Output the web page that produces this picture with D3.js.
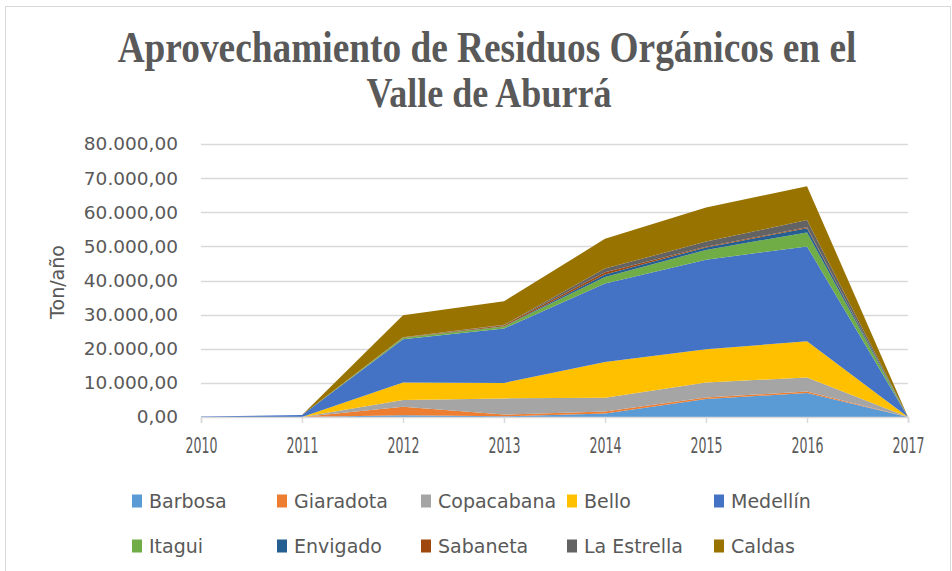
<!DOCTYPE html>
<html>
<head>
<meta charset="utf-8">
<script src="https://cdn.jsdelivr.net/npm/d3@7"></script>
<style>
  html, body { margin: 0; padding: 0; background: #ffffff; }
  svg { display: block; }
</style>
</head>
<body>
<svg id="chart" width="952" height="571"></svg>
<script>
// Years on the horizontal axis
const years = [2010, 2011, 2012, 2013, 2014, 2015, 2016, 2017];

// Municipalities, in stacking order (bottom to top)
const municipios = ["Barbosa", "Giaradota", "Copacabana", "Bello", "Medellín",
                    "Itagui", "Envigado", "Sabaneta", "La Estrella", "Caldas"];

// Tonnes per year for each municipality
const barbosa    = [0,   0,   500,   200,   1000,  5300,  7000,  0];
const giaradota  = [0,   0,   2500,  500,   600,   400,   500,   0];
const copacabana = [0,   0,   2000,  4750,  4050,  4400,  4100,  0];
const bello      = [0,   0,   5100,  4550,  10500, 9750,  10600, 0];
const medellin   = [150, 600, 12700, 15930, 22950, 26250, 27800, 0];
const itagui     = [0,   0,   400,   570,   1940,  2850,  4100,  0];
const envigado   = [0,   0,   50,    100,   700,   750,   1200,  0];
const sabaneta   = [0,   0,   50,    300,   700,   200,   300,   0];
const laEstrella = [0,   0,   50,    100,   1050,  1500,  2100,  0];
const caldas     = [0,   0,   6480,  6900,  8710,  10000, 9900,  0];

const seriesValues = [barbosa, giaradota, copacabana, bello, medellin,
                      itagui, envigado, sabaneta, laEstrella, caldas];

const colors = ["#5B9BD5", "#ED7D31", "#A5A5A5", "#FFC000", "#4472C4",
                "#70AD47", "#255E91", "#9E480E", "#636363", "#997300"];

// Y axis tick values and their labels
const yTicks = [0, 10000, 20000, 30000, 40000, 50000, 60000, 70000, 80000];
const yTickLabels = ["0,00", "10.000,00", "20.000,00", "30.000,00", "40.000,00",
                     "50.000,00", "60.000,00", "70.000,00", "80.000,00"];

const titleLines = ["Aprovechamiento de Residuos Orgánicos en el", "Valle de Aburrá"];
const yAxisTitle = "Ton/año";

// Build row table for d3.stack
const rows = years.map((y, i) => {
  const r = { year: y };
  municipios.forEach((m, k) => { r[m] = seriesValues[k][i]; });
  return r;
});

const svg = d3.select("#chart");
const textColor = "#595959";
const gridColor = "#d9d9d9";

// Squeeze a centred text horizontally so it spans the given width
function fitWidth(sel, cx, cy, width) {
  sel.attr("x", 0).attr("y", 0).attr("text-anchor", "middle");
  const w = sel.node().getComputedTextLength();
  const k = width / w;
  sel.attr("transform", `translate(${cx},${cy}) scale(${k},1)`);
}

// Outer chart border
svg.append("rect")
  .attr("x", 5.5).attr("y", 6.5)
  .attr("width", 945).attr("height", 570)
  .attr("fill", "#fff")
  .attr("stroke", gridColor).attr("stroke-width", 1);

const x = d3.scaleLinear().domain([2010, 2017]).range([201, 908]);
const yScale = d3.scaleLinear().domain([0, 80000]).range([417, 144]);

// Horizontal gridlines
svg.append("g")
  .selectAll("line")
  .data(yTicks.slice(1))
  .join("line")
  .attr("x1", x(2010)).attr("x2", x(2017))
  .attr("y1", d => Math.round(yScale(d)) + 0.5)
  .attr("y2", d => Math.round(yScale(d)) + 0.5)
  .attr("stroke", gridColor).attr("stroke-width", 1.5);

// Stacked areas
const stack = d3.stack().keys(municipios);
const layers = stack(rows);

const area = d3.area()
  .x(d => x(d.data.year))
  .y0(d => yScale(d[0]))
  .y1(d => yScale(d[1]));

svg.append("g")
  .selectAll("path")
  .data(layers)
  .join("path")
  .attr("d", area)
  .attr("fill", (d, i) => colors[i]);

// X axis
const xAxis = d3.axisBottom(x)
  .tickValues(years)
  .tickFormat(d3.format("d"))
  .tickSize(6)
  .tickPadding(14);

const gx = svg.append("g")
  .attr("transform", "translate(0,417)")
  .call(xAxis);
gx.select(".domain").attr("stroke", gridColor).attr("stroke-width", 1.5);
gx.selectAll(".tick line").attr("stroke", gridColor).attr("stroke-width", 1.5);
gx.selectAll(".tick text")
  .attr("fill", textColor)
  .attr("font-family", "'DejaVu Sans Condensed', 'DejaVu Sans', sans-serif")
  .attr("font-size", 21)
  .attr("dy", null)
  .each(function () { fitWidth(d3.select(this), 0, 36, 32); });

// Y axis (labels only)
const yAxis = d3.axisLeft(yScale)
  .tickValues(yTicks)
  .tickFormat((d, i) => yTickLabels[i])
  .tickSize(0)
  .tickPadding(23);

const gy = svg.append("g")
  .attr("transform", `translate(${x(2010)},0)`)
  .call(yAxis);
gy.select(".domain").remove();
gy.selectAll(".tick text")
  .attr("fill", textColor)
  .attr("font-family", "'DejaVu Sans', sans-serif")
  .attr("font-size", 18.5);

// Y axis title
svg.append("text")
  .attr("transform", "translate(64,282) rotate(-90)")
  .attr("text-anchor", "middle")
  .attr("fill", textColor)
  .attr("font-family", "'DejaVu Sans', sans-serif")
  .attr("font-size", 19)
  .text(yAxisTitle);

// Title, two lines
const title1 = svg.append("text")
  .attr("fill", textColor)
  .attr("font-family", "'Liberation Serif', 'Times New Roman', serif")
  .attr("font-weight", "bold")
  .attr("font-size", 44)
  .text(titleLines[0]);
fitWidth(title1, 487, 62, 739);

const title2 = svg.append("text")
  .attr("fill", textColor)
  .attr("font-family", "'Liberation Serif', 'Times New Roman', serif")
  .attr("font-weight", "bold")
  .attr("font-size", 42)
  .text(titleLines[1]);
fitWidth(title2, 489, 107, 245);

// Legend: two rows of five
const legendCols = [132, 277, 421, 567, 714];
const legendRows = [501, 546];

const legend = svg.append("g")
  .selectAll("g")
  .data(municipios)
  .join("g")
  .attr("transform", (d, i) => `translate(${legendCols[i % 5]},${legendRows[Math.floor(i / 5)]})`);

legend.append("rect")
  .attr("x", 0).attr("y", -6.5)
  .attr("width", 10).attr("height", 13)
  .attr("fill", (d, i) => colors[i]);

legend.append("text")
  .attr("x", 17).attr("y", 0)
  .attr("dy", "0.35em")
  .attr("fill", textColor)
  .attr("font-family", "'DejaVu Sans', sans-serif")
  .attr("font-size", 19)
  .text(d => d);
</script>
</body>
</html>
